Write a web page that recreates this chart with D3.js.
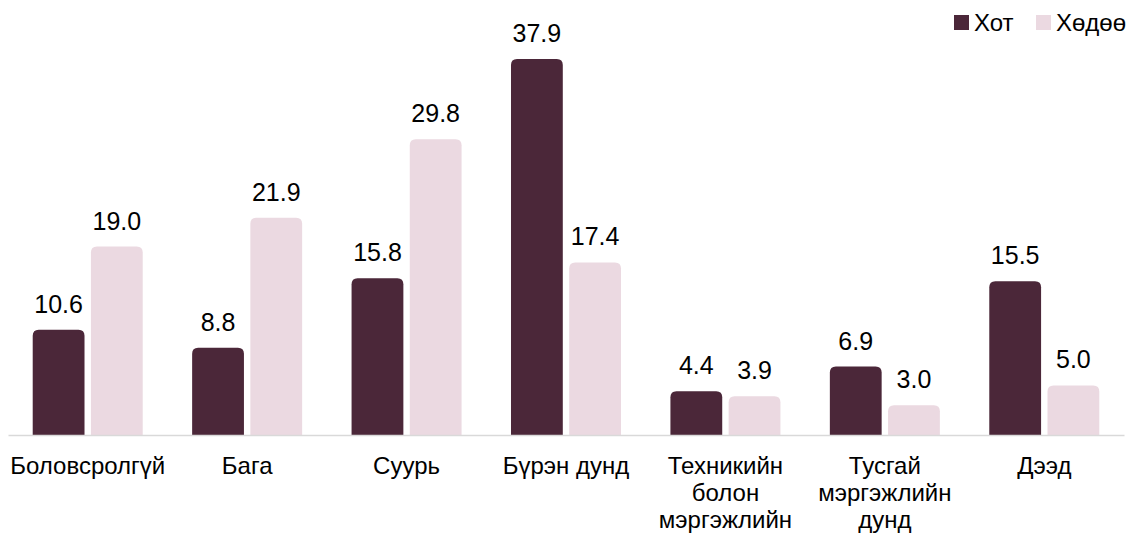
<!DOCTYPE html>
<html>
<head>
<meta charset="utf-8">
<script src="https://cdn.jsdelivr.net/npm/d3@7"></script>
<style>
  body { margin: 0; background: #fff; }
  text { font-family: "Liberation Sans", Arial, sans-serif; fill: #000; }
</style>
</head>
<body>
<svg id="chart"></svg>
<script>
const categories = [
  ['Боловсролгүй'],
  ['Бага'],
  ['Суурь'],
  ['Бүрэн дунд'],
  ['Техникийн', 'болон', 'мэргэжлийн'],
  ['Тусгай', 'мэргэжлийн', 'дунд'],
  ['Дээд']
];
const seriesNames = ['Хот', 'Хөдөө'];
const khot = [10.6, 8.8, 15.8, 37.9, 4.4, 6.9, 15.5];
const khodoo = [19.0, 21.9, 29.8, 17.4, 3.9, 3.0, 5.0];
const colors = ['#4b2739', '#ebd9e1'];

const width = 1134;
const height = 533;
const margin = {top: 59, right: 10, bottom: 98, left: 8};
const baseline = height - margin.bottom;

const svg = d3.select('#chart').attr('width', width).attr('height', height);

const x = d3.scaleBand()
  .domain(d3.range(categories.length))
  .range([margin.left, width - margin.right])
  .paddingInner(0.31)
  .paddingOuter(0.155);

const xs = d3.scaleBand()
  .domain([0, 1])
  .range([0, x.bandwidth()])
  .paddingInner(0.11);

const y = d3.scaleLinear()
  .domain([0, 37.9])
  .range([baseline, margin.top]);

const series = [khot, khodoo];

// bars with rounded top
function barPath(x0, w, yTop) {
  const r = Math.min(6, (baseline - yTop) / 2, w / 2);
  return `M${x0},${baseline}V${yTop + r}Q${x0},${yTop} ${x0 + r},${yTop}` +
    `H${x0 + w - r}Q${x0 + w},${yTop} ${x0 + w},${yTop + r}V${baseline}Z`;
}

const groups = svg.append('g')
  .selectAll('g')
  .data(categories)
  .join('g')
  .attr('transform', (d, i) => `translate(${x(i)},0)`);

groups.selectAll('path')
  .data((d, i) => series.map((s, j) => ({j, v: s[i]})))
  .join('path')
  .attr('fill', d => colors[d.j])
  .attr('d', d => barPath(xs(d.j), xs.bandwidth(), y(d.v)));

groups.selectAll('text.val')
  .data((d, i) => series.map((s, j) => ({j, v: s[i]})))
  .join('text')
  .attr('class', 'val')
  .attr('x', d => xs(d.j) + xs.bandwidth() / 2)
  .attr('y', d => y(d.v) - 17)
  .attr('text-anchor', 'middle')
  .attr('font-size', 25)
  .text(d => d.v.toFixed(1));

// axis
const xAxis = d3.axisBottom(x).tickSize(0).tickFormat('');
svg.append('g')
  .attr('transform', `translate(0,${baseline})`)
  .call(xAxis)
  .call(g => g.select('.domain').attr('stroke', '#d9d9d9').attr('stroke-width', 1.5));

svg.append('g')
  .selectAll('text')
  .data(categories)
  .join('text')
  .attr('text-anchor', 'middle')
  .attr('font-size', 24)
  .attr('transform', (d, i) => `translate(${x(i) + x.bandwidth() / 2},${baseline + 39})`)
  .selectAll('tspan')
  .data(d => d)
  .join('tspan')
  .attr('x', 0)
  .attr('y', (d, k) => k * 27)
  .text(d => d);

// legend
const legend = svg.append('g')
  .selectAll('g')
  .data(seriesNames)
  .join('g')
  .attr('transform', (d, i) => `translate(${[954, 1036][i]},15)`);
legend.append('rect')
  .attr('width', 15).attr('height', 15)
  .attr('fill', (d, i) => colors[i]);
legend.append('text')
  .attr('x', 20).attr('y', 16)
  .attr('font-size', 24)
  .text(d => d);
</script>
</body>
</html>
